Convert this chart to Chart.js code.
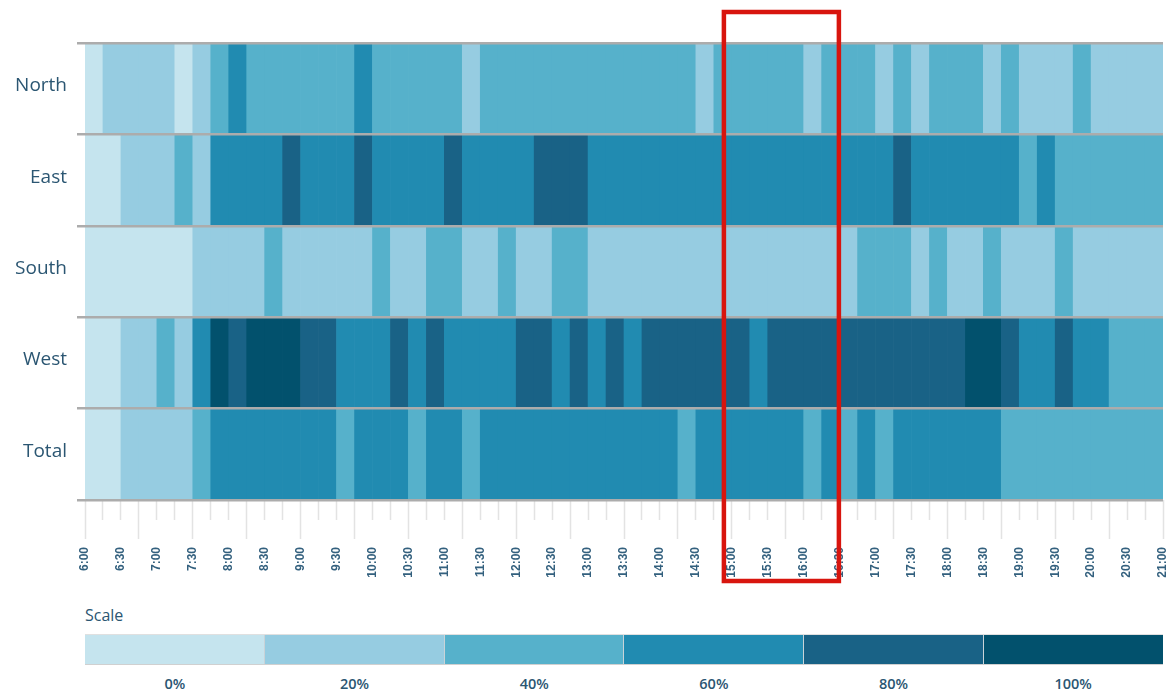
<!DOCTYPE html>
<html>
<head>
<meta charset="utf-8">
<title>Regional load heatmap</title>
<script src="https://cdn.jsdelivr.net/npm/chart.js@4"></script>
<style>
  body { margin: 0; background: #fff; font-family: "Open Sans", sans-serif; color: #2b5672; }
  #wrap { position: relative; width: 1166px; height: 595px; }
  #scale { position: absolute; left: 85px; top: 604px; width: 1078px; }
  #scale .title { font-size: 16px; line-height: 22px; height: 22px; }
  #scale .bar { display: flex; margin-top: 8px; height: 29px; border-top: 1px solid #e0e0e0; border-bottom: 1px solid #d0d0d0; }
  #scale .bar div { flex: 1; border-right: 1px solid #c9d3d8; }
  #scale .bar div:last-child { border-right: none; }
  #scale .labels { display: flex; margin-top: 9px; }
  #scale .labels div { flex: 1; text-align: center; font-size: 14.5px; font-weight: 600; line-height: 20px; }
</style>
</head>
<body>
<div id="wrap"><canvas id="heat"></canvas></div>
<div id="scale">
  <div class="title">Scale</div>
  <div class="bar" id="scaleBar"></div>
  <div class="labels" id="scaleLabels"></div>
</div>
<script>
// rows and time slots (15 minutes each, 6:00 - 21:00)
const rows = ["North", "East", "South", "West", "Total"];
const startHour = 6;
const endHour = 21;
const slotHours = 0.25;
const timeLabels = ["6:00", "6:30", "7:00", "7:30", "8:00", "8:30", "9:00", "9:30",
  "10:00", "10:30", "11:00", "11:30", "12:00", "12:30", "13:00", "13:30", "14:00",
  "14:30", "15:00", "15:30", "16:00", "16:30", "17:00", "17:30", "18:00", "18:30",
  "19:00", "19:30", "20:00", "20:30", "21:00"];

// load per slot, in %
const north = [0, 20, 20, 20, 20, 0, 20, 40, 60, 40,
  40, 40, 40, 40, 40, 60, 40, 40, 40, 40,
  40, 20, 40, 40, 40, 40, 40, 40, 40, 40,
  40, 40, 40, 40, 20, 40, 40, 40, 40, 40,
  20, 40, 40, 40, 20, 40, 20, 40, 40, 40,
  20, 40, 20, 20, 20, 40, 20, 20, 20, 20];
const east = [0, 0, 20, 20, 20, 40, 20, 60, 60, 60,
  60, 80, 60, 60, 60, 80, 60, 60, 60, 60,
  80, 60, 60, 60, 60, 80, 80, 80, 60, 60,
  60, 60, 60, 60, 60, 60, 60, 60, 60, 60,
  60, 60, 60, 60, 60, 80, 60, 60, 60, 60,
  60, 60, 40, 60, 40, 40, 40, 40, 40, 40];
const south = [0, 0, 0, 0, 0, 0, 20, 20, 20, 20,
  40, 20, 20, 20, 20, 20, 40, 20, 20, 40,
  40, 20, 20, 40, 20, 20, 40, 40, 20, 20,
  20, 20, 20, 20, 20, 20, 20, 20, 20, 20,
  20, 20, 20, 40, 40, 40, 20, 40, 20, 20,
  40, 20, 20, 20, 40, 20, 20, 20, 20, 20];
const west = [0, 0, 20, 20, 40, 20, 60, 100, 80, 100,
  100, 100, 80, 80, 60, 60, 60, 80, 60, 80,
  60, 60, 60, 60, 80, 80, 60, 80, 60, 80,
  60, 80, 80, 80, 80, 80, 80, 60, 80, 80,
  80, 80, 80, 80, 80, 80, 80, 80, 80, 100,
  100, 80, 60, 60, 80, 60, 60, 40, 40, 40];
const total = [0, 0, 20, 20, 20, 20, 40, 60, 60, 60,
  60, 60, 60, 60, 40, 60, 60, 60, 40, 60,
  60, 40, 60, 60, 60, 60, 60, 60, 60, 60,
  60, 60, 60, 40, 60, 60, 60, 60, 60, 60,
  40, 60, 40, 60, 40, 60, 60, 60, 60, 60,
  60, 40, 40, 40, 40, 40, 40, 40, 40, 40];

const scaleLabels = ["0%", "20%", "40%", "60%", "80%", "100%"];
const scaleColors = ["#c5e4ee", "#96cce1", "#56b1cb", "#218bb1", "#196286", "#02516d"];

// highlighted time window (hours)
const highlight = [14.89, 16.49];

const textColor = "#2b5672";

/* ------------------------- */
/* CELLS                     */
/* ------------------------- */
const series = [north, east, south, west, total];
const cells = [];
series.forEach((vals, r) => {
  vals.forEach((v, i) => {
    const t = startHour + i * slotHours;
    cells.push({ x: [t, t + slotHours], y: rows[r], v: v });
  });
});

function cellColor(ctx) {
  if (!ctx.raw) return scaleColors[0];
  return scaleColors[Math.round(ctx.raw.v / 20)];
}

/* ------------------------- */
/* RED HIGHLIGHT BOX         */
/* ------------------------- */
const highlightBox = {
  id: "highlightBox",
  afterDraw(chart) {
    const ctx = chart.ctx;
    const x = chart.scales.x;
    const left = x.getPixelForValue(highlight[0]);
    const right = x.getPixelForValue(highlight[1]);
    const top = chart.chartArea.top - 31;
    const bottom = x.bottom - 14;
    ctx.save();
    ctx.strokeStyle = "#d8150e";
    ctx.lineWidth = 4.5;
    ctx.strokeRect(left, top, right - left, bottom - top);
    ctx.restore();
  }
};

new Chart(document.getElementById("heat"), {
  type: "bar",
  data: {
    labels: rows,
    datasets: [{
      data: cells,
      backgroundColor: cellColor,
      borderWidth: 0,
      barPercentage: 1,
      categoryPercentage: 1
    }]
  },
  options: {
    indexAxis: "y",
    responsive: true,
    maintainAspectRatio: false,
    animation: false,
    layout: { padding: { top: 43, right: 3 } },
    plugins: {
      legend: { display: false },
      tooltip: { enabled: false }
    },
    scales: {
      x: {
        type: "linear",
        min: startHour,
        max: endHour,
        afterFit: (s) => {
          s.height = 95;
          s.paddingLeft = 0;
          s.paddingRight = 0;
        },
        border: { display: false },
        grid: {
          drawOnChartArea: false,
          drawTicks: true,
          tickLength: 39,
          tickColor: "#e3e3e3",
          tickWidth: 1.5,
          tickBorderDash: (ctx) => (ctx.index % 3 === 0 ? [] : [20, 100])
        },
        ticks: {
          stepSize: slotHours,
          autoSkip: false,
          maxRotation: 90,
          minRotation: 90,
          padding: 8,
          color: "#33607e",
          font: { family: "Liberation Sans", size: 12, weight: "bold" },
          callback: (v) => {
            const h = (v - startHour) * 2;
            const k = Math.round(h);
            return Math.abs(h - k) < 1e-6 ? timeLabels[k] : "";
          }
        }
      },
      y: {
        type: "category",
        afterFit: (s) => { s.width = 85; },
        border: { display: false },
        grid: {
          z: 1,
          offset: true,
          color: "#acacac",
          lineWidth: 2.5,
          tickLength: 8
        },
        ticks: {
          padding: 10,
          labelOffset: -3,
          color: textColor,
          font: { family: "Open Sans", size: 19 }
        }
      }
    }
  },
  plugins: [highlightBox]
});

/* ------------------------- */
/* SCALE LEGEND              */
/* ------------------------- */
const bar = document.getElementById("scaleBar");
const lab = document.getElementById("scaleLabels");
scaleColors.forEach((c, i) => {
  const seg = document.createElement("div");
  seg.style.background = c;
  bar.appendChild(seg);
  const t = document.createElement("div");
  t.textContent = scaleLabels[i];
  lab.appendChild(t);
});
</script>
</body>
</html>
